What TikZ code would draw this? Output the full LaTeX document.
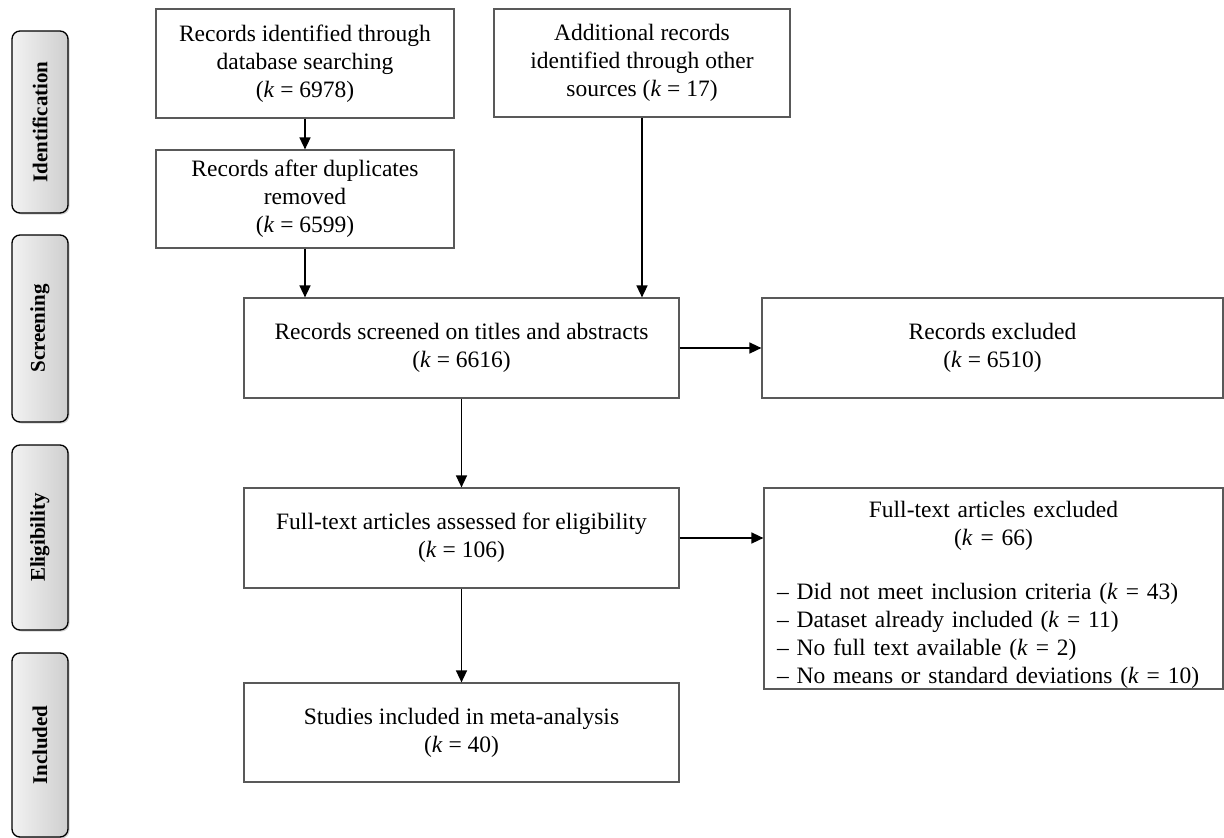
\documentclass[tikz,border=0pt]{standalone}
\usepackage{fontspec}
\setmainfont{Liberation Serif}
\usetikzlibrary{arrows.meta,shadows}
\begin{document}
\begin{tikzpicture}[x=1pt,y=-1pt,
  box/.style={draw=black!65,line width=1.2pt,fill=white,align=center,inner sep=0pt,font=\fontsize{23.5}{28}\selectfont},
  phase/.style={draw=black,line width=1.3pt,rounded corners=8pt,left color=gray!10,right color=gray!38,minimum width=56pt,inner sep=0pt,font=\fontsize{21}{24}\selectfont\bfseries,drop shadow={shadow xshift=1.5pt,shadow yshift=-1.5pt,opacity=.35}},
  flow/.style={line width=1.5pt,-{Triangle[length=12pt,width=11pt]}}]
\useasboundingbox (0,0) rectangle (1224,838);
% phases
\node[phase,minimum height=182pt] (ident) at (40,122) {\rotatebox{90}{Identification}};
\node[phase,minimum height=187pt] (screenph) at (40,328.5) {\rotatebox{90}{Screening}};
\node[phase,minimum height=185pt] (eligph) at (40,537.5) {\rotatebox{90}{Eligibility}};
\node[phase,minimum height=184pt] (inclph) at (40,745) {\rotatebox{90}{Included}};
% records
\node[box,minimum width=298pt,minimum height=109pt] (dbsearch) at (305,63.5) {Records identified through\\database searching\\(\textit{k} = 6978)};
\node[box,minimum width=296pt,minimum height=108pt] (other) at (642,63) {Additional records\\identified through other\\sources (\textit{k} = 17)};
\node[box,minimum width=298pt,minimum height=98pt] (dupl) at (305,199) {Records after duplicates\\removed\\(\textit{k} = 6599)};
\node[box,minimum width=435pt,minimum height=100pt] (screen) at (461.5,348) {Records screened on titles and abstracts\\(\textit{k} = 6616)};
\node[box,minimum width=461pt,minimum height=100pt] (recexcl) at (992.5,348) {Records excluded\\(\textit{k} = 6510)};
\node[box,minimum width=435pt,minimum height=100pt] (fulltext) at (461.5,538) {Full-text articles assessed for eligibility\\(\textit{k} = 106)};
\node[box,minimum width=459pt,minimum height=201pt,text width=433pt,align=left] (ftexcl) at (993.5,588.5) {{\centering\rule{0pt}{28pt}Full-text articles excluded\\(\textit{k} = 66)\par}\vspace{26pt}%
\textendash{} Did not meet inclusion criteria (\textit{k} = 43)\\
\textendash{} Dataset already included (\textit{k} = 11)\\
\textendash{} No full text available (\textit{k} = 2)\\
\textendash{} No means or standard deviations (\textit{k} = 10)};
\node[box,minimum width=435pt,minimum height=99pt] (incl) at (461.5,732.5) {Studies included in meta-analysis\\(\textit{k} = 40)};
% arrows
\draw[flow] (dbsearch) -- (dupl);
\draw[flow] (dupl.south) -- (dupl.south |- screen.north);
\draw[flow] (other.south) -- (other.south |- screen.north);
\draw[flow] (screen) -- (recexcl);
\draw[flow] (screen) -- (fulltext);
\draw[flow] (fulltext.east) -- (fulltext.east -| ftexcl.west);
\draw[flow] (fulltext) -- (incl);
\end{tikzpicture}
\end{document}
